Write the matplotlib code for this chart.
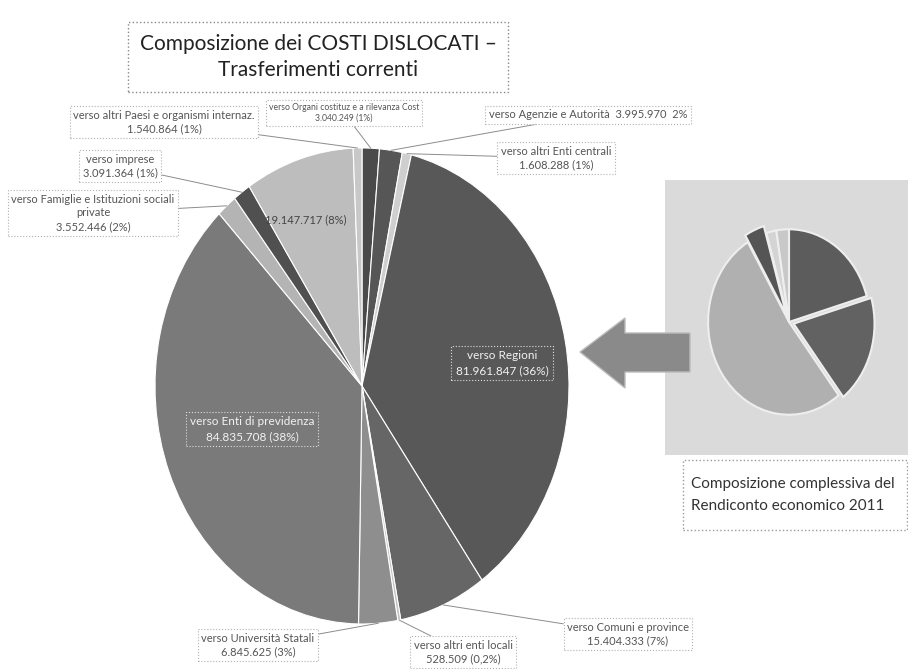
import matplotlib
matplotlib.use("Agg")
import matplotlib.pyplot as plt
import numpy as np
from matplotlib.patches import Rectangle, Polygon

W, H = 908, 669

# ---------------- data (main pie, clockwise from 12 o'clock) ----------------
categories = [
    "verso Organi costituz e a rilevanza Cost",
    "verso Agenzie e Autorità",
    "verso altri Enti centrali",
    "verso Regioni",
    "verso Comuni e province",
    "verso altri enti locali",
    "verso Università Statali",
    "verso Enti di previdenza",
    "verso Famiglie e Istituzioni sociali\nprivate",
    "verso imprese",
    "altri trasferimenti",
    "verso altri Paesi e organismi internaz.",
]
values = [3040249, 3995970, 1608288, 81961847, 15404333, 528509,
          6845625, 84835708, 3552446, 3091364, 19147717, 1540864]
value_labels = ["3.040.249 (1%)", "3.995.970  2%", "1.608.288 (1%)",
                "81.961.847 (36%)", "15.404.333 (7%)", "528.509 (0,2%)",
                "6.845.625 (3%)", "84.835.708 (38%)", "3.552.446 (2%)",
                "3.091.364 (1%)", "19.147.717 (8%)", "1.540.864 (1%)"]
colors = ["#4a4a4a", "#565656", "#cfcfcf", "#585858", "#666666", "#c4c4c4",
          "#8e8e8e", "#7a7a7a", "#b4b4b4", "#505050", "#bdbdbd", "#c8c8c8"]

# inset pie (Rendiconto economico 2011), clockwise from top
inset_values = [20.5, 19, 52, 4, 2, 2.5]
inset_colors = ["#5c5c5c", "#626262", "#b0b0b0", "#555555", "#d4d4d4", "#c8c8c8"]
inset_explode = [0, 0.06, 0, 0.08, 0, 0]

title_text = "Composizione dei COSTI DISLOCATI –\nTrasferimenti correnti"
inset_title = "Composizione complessiva del\nRendiconto economico 2011"

FONT = ["Lato", "DejaVu Sans"]
plt.rcParams["font.family"] = FONT

fig = plt.figure(figsize=(W / 100, H / 100), dpi=100)
fig.patch.set_facecolor("white")


def fpos(x, y):
    return (x / W, 1 - y / H)


def axes_rect(cx, cy, rx, ry):
    return [(cx - rx) / W, (H - cy - ry) / H, 2 * rx / W, 2 * ry / H]


# ---------------- inset background + pie ----------------
fig.add_artist(Rectangle(fpos(665, 455), (908 - 665) / W, (455 - 180) / H,
                         transform=fig.transFigure, facecolor="#dadada",
                         edgecolor="none", zorder=0))
axi = fig.add_axes(axes_rect(789, 322, 89, 102))
axi.pie(inset_values, colors=inset_colors, startangle=90, counterclock=False,
        explode=inset_explode,
        wedgeprops=dict(edgecolor="#eeeeee", linewidth=1.5))
axi.set_aspect("auto")
axi.set_xlim(-1.1, 1.1)
axi.set_ylim(-1.1, 1.1)
axi.axis("off")

fig.add_artist(Rectangle(fpos(683, 530), (907 - 683) / W, (530 - 460) / H,
                         transform=fig.transFigure, facecolor="white",
                         edgecolor="#999999", ls=":", lw=1, zorder=1))
fig.text(*fpos(691, 495), inset_title, ha="left", va="center", fontsize=11,
         color="#333333", linespacing=1.75, zorder=2)

# ---------------- arrow ----------------
arrow_pts = [(580, 352), (625, 318), (625, 333), (690, 333), (690, 372),
             (625, 372), (625, 388)]
fig.add_artist(Polygon([fpos(x, y) for x, y in arrow_pts], closed=True,
                       transform=fig.transFigure, facecolor="#8a8a8a",
                       edgecolor="#bbbbbb", lw=1, zorder=2))

# ---------------- main pie ----------------
ax = fig.add_axes(axes_rect(362, 386, 207, 238))
wedges, _ = ax.pie(values, colors=colors, startangle=90, counterclock=False,
                   wedgeprops=dict(edgecolor="white", linewidth=0.8))
ax.set_aspect("auto")
ax.set_xlim(-1, 1)
ax.set_ylim(-1, 1)
ax.axis("off")


def edge_point(w, r=1.0):
    a = np.deg2rad((w.theta1 + w.theta2) / 2)
    return (r * np.cos(a), r * np.sin(a))


box = dict(boxstyle="square,pad=0.3", fc="white", ec="#b0b0b0", ls=":", lw=0.8)
line = dict(arrowstyle="-", color="#8c8c8c", lw=0.7, shrinkA=0, shrinkB=0)

# outside labels: index -> (text x, text y, font size) in reference pixels
outside = {
    0: (344, 113, 6.2),
    1: (588, 115, 8),
    2: (556, 158, 8),
    4: (628, 634, 8),
    5: (463, 652, 8),
    6: (258, 645, 8),
    8: (93, 213, 8),
    9: (120, 166, 8),
    11: (164, 122, 8),
}
for i, (tx, ty, fs) in outside.items():
    if i == 1:
        txt = categories[i] + "  " + value_labels[i]
    else:
        txt = categories[i] + "\n" + value_labels[i]
    ax.annotate(txt, xy=edge_point(wedges[i]), xycoords="data",
                xytext=fpos(tx, ty), textcoords="figure fraction",
                ha="center", va="center", fontsize=fs, color="#555555",
                bbox=box, arrowprops=line, linespacing=1.3)

# inside labels
inbox = dict(boxstyle="square,pad=0.35", fc="none", ec="#dddddd", ls=":", lw=0.8)
fig.text(*fpos(502, 363), categories[3] + "\n" + value_labels[3],
         ha="center", va="center", fontsize=8.5, color="#f2f2f2",
         bbox=inbox, linespacing=1.4)
fig.text(*fpos(252, 429), categories[7] + "\n" + value_labels[7],
         ha="center", va="center", fontsize=8.5, color="#f2f2f2",
         bbox=inbox, linespacing=1.4)
fig.text(*fpos(306, 220), value_labels[10], ha="center", va="center",
         fontsize=8, color="#444444")

# ---------------- title ----------------
fig.text(*fpos(318, 57), title_text, ha="center", va="center", fontsize=15,
         color="#222222", linespacing=1.4,
         bbox=dict(boxstyle="square,pad=0.55", fc="white", ec="#888888",
                   ls=":", lw=1))

fig.savefig("out.png", dpi=100, facecolor="white")
